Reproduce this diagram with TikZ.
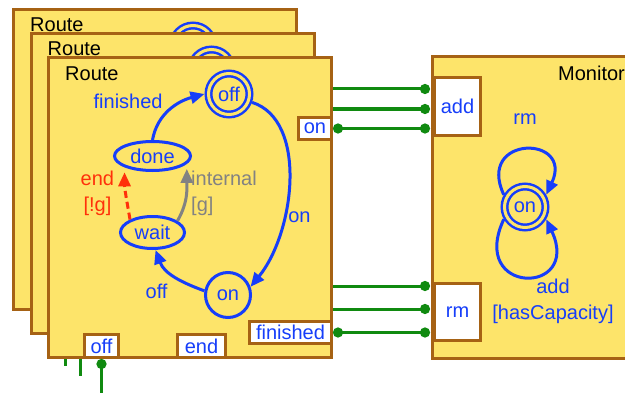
\documentclass[tikz,border=0pt]{standalone}
\usepackage{fontspec}
\setmainfont{Liberation Sans}
\usetikzlibrary{arrows.meta}
\usetikzlibrary{shapes.geometric}

\definecolor{boxyellow}{RGB}{253,228,106}
\definecolor{boxbrown}{RGB}{166,98,20}
\definecolor{stblue}{RGB}{22,62,250}
\definecolor{wiregreen}{RGB}{16,138,16}
\definecolor{endred}{RGB}{255,48,10}
\definecolor{intgray}{RGB}{130,130,130}

\begin{document}
\begin{tikzpicture}[x=1pt, y=1pt, font=\fontsize{20}{26}\selectfont,
  comp/.style={rectangle, draw=boxbrown, fill=boxyellow, line width=3pt, minimum width=283pt, minimum height=300pt, inner sep=0pt},
  boxname/.style={anchor=base west, inner sep=0pt, text=black},
  port/.style={rectangle, draw=boxbrown, fill=white, line width=3pt, text=stblue, minimum height=22pt, inner sep=0pt},
  state/.style={ellipse, draw=stblue, line width=3pt, text=stblue, inner sep=0pt},
  final/.style={circle, draw=stblue, double=boxyellow, double distance=3pt, line width=2.5pt, text=stblue, minimum size=41pt, inner sep=0pt, outer sep=4pt},
  trans/.style={draw=stblue, line width=3pt, -{Triangle[length=14pt, width=12pt]}},
  lbl/.style={text=stblue},
  wire/.style={draw=wiregreen, line width=3pt},
  dotend/.style={-{Circle[length=10pt]}, shorten >=3pt},
  dotstart/.style={{Circle[length=10pt]}-},
  dotboth/.style={{Circle[length=10pt]}-{Circle[length=10pt]}, shorten >=3pt}]
	\useasboundingbox[fill=white] (0,0) rectangle (625,392);

	% monitor
	\node[comp, minimum width=300pt, minimum height=302pt] (monitor) at (582.5,184.5) {};
	\node[boxname, xshift=127pt, yshift=-25pt] (monname) at (monitor.north west) {Monitor}; %
	\node[port, minimum width=46pt, minimum height=58pt] (addport) at (457.5,285.5) {add}; %
	\node[port, minimum width=46pt, minimum height=57pt] (rmport) at (457.5,80) {rm}; %
	\node[final] (monon) at (525,185) {on}; %
	\draw[trans] (monon.150) to[out=115, in=65, looseness=4] node[lbl, above=20pt] {rm} (monon.30);
	\draw[trans] (monon.210) to[out=245, in=295, looseness=5.1] node[lbl, anchor=north, align=center, xshift=28pt, yshift=2pt] {add\\{}[hasCapacity]} (monon.-30);

	% routes behind
	\node[comp] (routeA) at (155,232.5) {};
	\node[boxname, xshift=18pt, yshift=-24pt] (routeAname) at (routeA.north west) {Route}; %
	\node[final] (offA) at (193,346) {off}; %
	\draw[wire, dotend] (routeA.east |- 0,303) -- (addport.west |- 0,303);
	\draw[wire, dotend] (routeA.east |- 0,106) -- (rmport.west |- 0,106);
	\draw[wire] (routeA.south -| 65,0) -- ++(0,-55);

	\node[comp] (routeB) at (172.5,208.5) {};
	\node[boxname, xshift=18pt, yshift=-24pt] (routeBname) at (routeB.north west) {Route}; %
	\node[final] (offB) at (211.5,322) {off}; %
	\draw[wire, dotend] (routeB.east |- 0,283) -- (addport.west |- 0,283);
	\draw[wire, dotend] (routeB.east |- 0,83) -- (rmport.west |- 0,83);
	\draw[wire] (routeB.south -| 80,0) -- ++(0,-41);

	% front route
	\node[comp] (route) at (190,184.5) {};
	\node[boxname, xshift=18pt, yshift=-24pt] (routename) at (route.north west) {Route}; %
	\node[final] (off) at (229,298) {off}; %
	\node[state, minimum width=76pt, minimum height=29pt] (done) at (152.5,236) {done}; %
	\node[state, minimum width=64pt, minimum height=32pt] (wait) at (152.5,159.5) {wait}; %
	\node[state, circle, minimum size=45pt] (on) at (228,97) {on}; %

	% ports
	\node[port, minimum width=33pt] (onport) at (315,263.5) {on}; %
	\node[port, minimum width=82pt] (finport) at (290.5,59.5) {finished}; %
	\node[port, minimum width=34pt, minimum height=23pt] (offport) at (101.5,46) {off}; %
	\node[port, minimum width=48pt, minimum height=23pt] (endport) at (201.5,46) {end}; %

	% edges
	\draw[trans] (done.north) to[out=80, in=195] node[lbl, above left, xshift=-3pt, yshift=-4pt] {finished} (off.west);
	\draw[trans] (off.-20) .. controls (308,272) and (295,160) .. (on.20) node[lbl, pos=.66, right] {on};
	\draw[trans] (on.170) to[out=160, in=-70] node[lbl, below left, xshift=-2pt, yshift=-3pt] {off} (wait.-80);
	\draw[trans, draw=endred, dash pattern=on 7pt off 4pt, shorten >=5pt] (wait.150) to[out=100, in=-90] node[left, text=endred, align=center, xshift=-7pt] {end\\{}[!g]} (done.-158);
	\draw[trans, draw=intgray, shorten >=5pt] (wait.25) to[out=60, in=-90] node[right, text=intgray, align=left] {internal\\{}[g]} (done.-13);

	% wires
	\draw[wire, dotboth] (onport.east) -- (onport.east -| addport.west);
	\draw[wire, dotboth] (finport.east) -- (finport.east -| rmport.west);
	\draw[wire, dotstart] (offport.south) -- ++(0,-40);
\end{tikzpicture}
\end{document}
